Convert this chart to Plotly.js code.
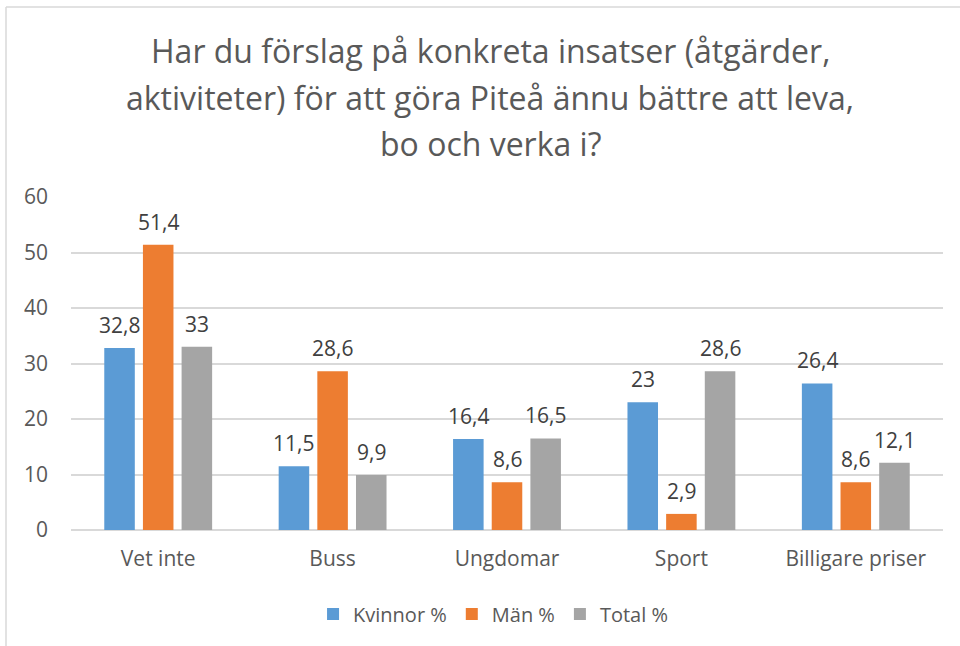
<!DOCTYPE html>
<html>
<head>
<meta charset="utf-8">
<script src="https://cdn.plot.ly/plotly-3.0.1.min.js"></script>
<style>
html,body{margin:0;padding:0;background:#fff;}
#chart{width:960px;height:646px;}
</style>
</head>
<body>
<div id="chart"></div>
<script>
const categories = ["Vet inte", "Buss", "Ungdomar", "Sport", "Billigare priser"];
const kvinnor = [32.8, 11.5, 16.4, 23, 26.4];
const man = [51.4, 28.6, 8.6, 2.9, 8.6];
const total = [33, 9.9, 16.5, 28.6, 12.1];
const seriesNames = ["Kvinnor %", "Män %", "Total %"];
const colors = ["#5B9BD5", "#ED7D31", "#A5A5A5"];
const titleLines = [
  "Har du förslag på konkreta insatser (åtgärder,",
  "aktiviteter) för att göra Piteå ännu bättre att leva,",
  "bo och verka i?"
];
const yTicks = [0, 10, 20, 30, 40, 50, 60];

const FONT = "Open Sans, Liberation Sans, sans-serif";
const allSeries = [kvinnor, man, total];

const traces = allSeries.map((vals, i) => ({
  type: "bar",
  name: seriesNames[i],
  x: categories,
  y: vals,
  marker: {color: colors[i]},
  hoverinfo: "x+y+name"
}));

const fmt = v => String(v).replace(".", ",");
const annotations = [];
const slot = 38.7;
allSeries.forEach((vals, i) => {
  vals.forEach((v, j) => {
    annotations.push({
      x: categories[j], y: v, xref: "x", yref: "y",
      text: fmt(v), showarrow: false,
      xshift: (i - 1) * slot, yshift: 7, yanchor: "bottom",
      font: {family: FONT, size: 21, color: "#404040"}
    });
  });
});
// title lines
const plotTop = 197, plotBottom = 530;
const titleCenters = [51, 97, 143];
titleLines.forEach((t, k) => {
  annotations.push({
    x: 0.481, xref: "paper", y: (plotBottom - titleCenters[k]) / (plotBottom - plotTop), yref: "paper",
    text: t, showarrow: false, xanchor: "center", yanchor: "middle",
    font: {family: FONT, size: 32, color: "#595959"}
  });
});

const layout = {
  width: 960, height: 646,
  margin: {l: 71, r: 17, t: 197, b: 116, pad: 0},
  paper_bgcolor: "#fff", plot_bgcolor: "#fff",
  barmode: "group", bargap: 0.335, bargroupgap: 0.21,
  font: {family: FONT, size: 21, color: "#595959"},
  xaxis: {
    type: "category", showgrid: false, zeroline: false,
    showline: false, ticks: "", ticklabelstandoff: 14,
    tickfont: {family: FONT, size: 21, color: "#595959"},
    fixedrange: true
  },
  yaxis: {
    range: [0, 60], tickvals: yTicks, ticktext: yTicks.map(String),
    showgrid: true, gridcolor: "#D9D9D9", gridwidth: 1.5,
    zeroline: true, zerolinecolor: "#D9D9D9", zerolinewidth: 1.5,
    showline: false, ticks: "", ticklabelstandoff: 22,
    tickfont: {family: FONT, size: 21, color: "#595959"},
    fixedrange: true
  },
  showlegend: true,
  legend: {
    orientation: "h", x: 0.484, xanchor: "center", y: -0.252, yanchor: "middle",
    font: {family: FONT, size: 20, color: "#595959"},
    traceorder: "normal", itemclick: false, itemdoubleclick: false
  },
  annotations: annotations,
  shapes: [
    {type: "line", xref: "paper", yref: "paper",
     x0: (6 - 71) / 872, x1: (6 - 71) / 872, y0: (530 - 7) / 333, y1: (530 - 646) / 333,
     line: {color: "#D9D9D9", width: 1.5}},
    {type: "line", xref: "paper", yref: "paper",
     x0: (6 - 71) / 872, x1: (960 - 71) / 872, y0: (530 - 7) / 333, y1: (530 - 7) / 333,
     line: {color: "#D9D9D9", width: 1.5}}
  ]
};

Plotly.newPlot("chart", traces, layout, {displayModeBar: false, staticPlot: false, responsive: false});
</script>
</body>
</html>
